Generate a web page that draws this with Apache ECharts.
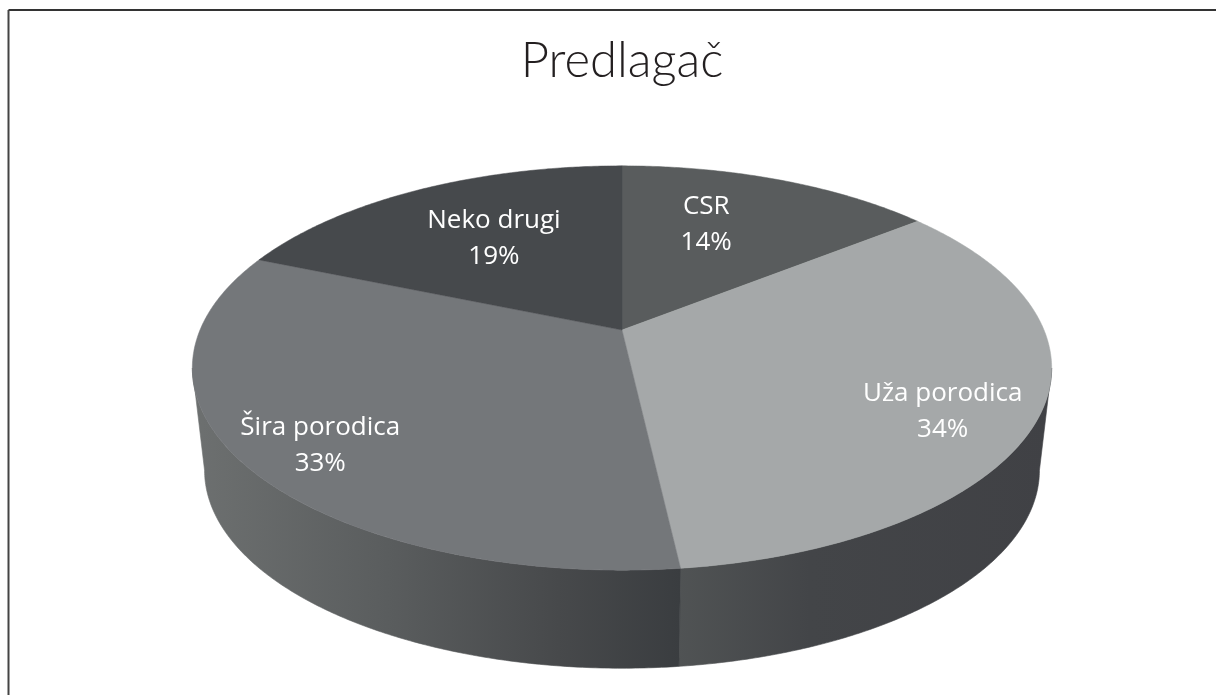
<!DOCTYPE html>
<html>
<head>
<meta charset="utf-8">
<style>html,body{margin:0;padding:0;background:#fff}#c{width:1216px;height:695px}</style>
<script src="https://cdn.jsdelivr.net/npm/echarts@6/dist/echarts.min.js"></script>
</head>
<body>
<div id="c"></div>
<script>
const chartTitle = 'Predlagač';
const categories = ['CSR', 'Uža porodica', 'Šira porodica', 'Neko drugi'];
const shares = [14.3, 33.9, 33.1, 18.7];

const faceColors = ['#595c5d', '#a5a8a9', '#74777a', '#46494c'];
const wallStops = [null,
  [[0, '#505354'], [0.35, '#434548'], [1, '#404145']],
  [[0, '#6d7070'], [0.4, '#5a5d5e'], [0.75, '#47494b'], [1, '#3a3d40']],
  null];
// label placement relative to the slice: shift from mid-angle (deg), radial fraction
const labelShift = [-6.0, 5.5, -1.9, 1.5];
const labelRadius = [0.66, 0.80, 0.828, 0.627];
const labelDrop = 3;

// perspective disc projection
const view = {cx: 622, k: 0.188,
  top: {cy: 330, rx: 422, ry: 195},
  bottom: {cy: 433, rx: 410, ry: 191}};
const sideAngle = Math.acos(-view.k) * 180 / Math.PI;

function project(deg, f, disc) {
  const a = deg * Math.PI / 180;
  const u = f * Math.sin(a), v = f * Math.cos(a), w = 1 + view.k * v;
  return [view.cx + disc.rx * u / w, disc.cy - disc.ry * v / w];
}
const total = shares.reduce((s, v) => s + v, 0);
function sliceAngles(i) {
  let before = 0;
  for (let j = 0; j < i; j++) before += shares[j];
  return [before / total * 360, (before + shares[i]) / total * 360];
}
function arc(a0, a1, disc) {
  const pts = [], n = Math.max(2, Math.ceil((a1 - a0) * 2));
  for (let s = 0; s <= n; s++) pts.push(project(a0 + (a1 - a0) * s / n, 1, disc));
  return pts;
}
const data = categories.map((name, i) => ({name, value: shares[i]}));

function renderWall(params) {
  const i = params.dataIndex;
  if (!wallStops[i]) return {type: 'group', children: []};
  let [a0, a1] = sliceAngles(i);
  a0 = Math.max(a0, sideAngle);
  a1 = Math.min(a1, 360 - sideAngle);
  const pts = arc(a0, a1, view.top).concat(arc(a0, a1, view.bottom).reverse());
  const xs = pts.map(p => p[0]);
  const fill = new echarts.graphic.LinearGradient(Math.min(...xs), 0, Math.max(...xs), 0,
    wallStops[i].map(s => ({offset: s[0], color: s[1]})), true);
  return {type: 'polygon', shape: {points: pts}, style: {fill, stroke: fill, lineWidth: 0.6}};
}
function renderFace(params) {
  const i = params.dataIndex;
  const [a0, a1] = sliceAngles(i);
  const pts = [project(0, 0, view.top)].concat(arc(a0, a1, view.top));
  return {type: 'polygon', shape: {points: pts},
    style: {fill: faceColors[i], stroke: faceColors[i], lineWidth: 0.5}};
}
function renderLabel(params) {
  const i = params.dataIndex;
  const [a0, a1] = sliceAngles(i);
  const p = project((a0 + a1) / 2 + labelShift[i], labelRadius[i], view.top);
  return {type: 'text', x: p[0], y: p[1] + labelDrop, style: {
    text: categories[i] + '\n' + Math.round(shares[i] / total * 100) + '%',
    fill: '#ffffff', font: '26px "Open Sans"', lineHeight: 36,
    align: 'center', verticalAlign: 'middle'}};
}
const custom = (renderItem, z) => ({type: 'custom', coordinateSystem: 'none', renderItem, data, z, silent: true, animation: false});

const chart = echarts.init(document.getElementById('c'), null, {renderer: 'canvas'});
chart.setOption({
  animation: false,
  backgroundColor: '#ffffff',
  title: {text: chartTitle, left: 617, top: 32, textAlign: 'center',
    textStyle: {fontFamily: 'Lato', fontWeight: 300, fontSize: 49, color: '#231f20'}},
  series: [custom(renderWall, 1), custom(renderFace, 2), custom(renderLabel, 3)],
  graphic: [
    {type: 'line', shape: {x1: 8.5, y1: 10, x2: 1216, y2: 10}, style: {stroke: '#333333', lineWidth: 2}},
    {type: 'line', shape: {x1: 8.5, y1: 10, x2: 8.5, y2: 695}, style: {stroke: '#444444', lineWidth: 2}}
  ]
});
</script>
</body>
</html>
